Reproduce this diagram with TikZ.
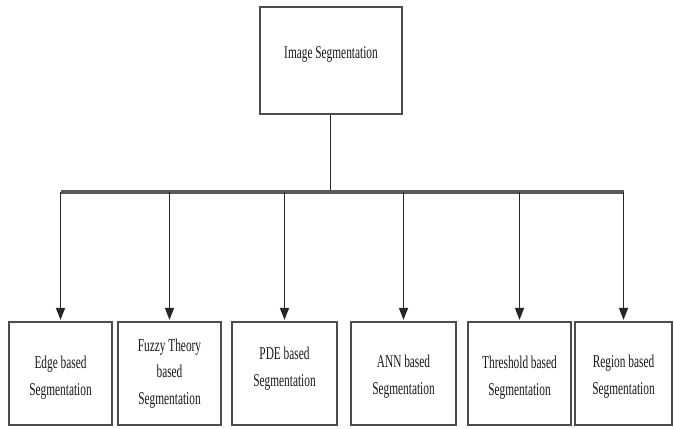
\documentclass[tikz,border=0pt]{standalone}
\usepackage{fontspec}
\setmainfont[FakeStretch=0.63]{Liberation Serif}
\usetikzlibrary{arrows.meta}
\tikzset{
  boxstyle/.style={draw=black!70, line width=2.2pt, fill=white, inner sep=0pt, anchor=center},
  labelstyle/.style={align=center, font=\fontsize{18}{26.5}\selectfont, text=black!90, inner sep=0pt},
  conn/.style={draw=black!85, line width=1.3pt},
  barstyle/.style={draw=black!65, line width=3.2pt},
  arr/.style={conn, -{Triangle[width=9pt,length=12pt]}, shorten >=1pt},
}
\begin{document}
\begin{tikzpicture}[x=1pt,y=1pt]
\useasboundingbox (0,0) rectangle (674,428);
% top box
\node[boxstyle, minimum width=142pt, minimum height=107pt] (top) at (331,367.5) {};
\node[labelstyle] (toptext) at (331,374) {Image Segmentation};
% bottom boxes
\node[boxstyle, minimum width=103pt, minimum height=103pt] (edge) at (60.5,54.5) {};
\node[boxstyle, minimum width=103pt, minimum height=103pt] (fuzzy) at (169.5,54.5) {};
\node[boxstyle, minimum width=105pt, minimum height=103pt] (pde) at (284.5,54.5) {};
\node[boxstyle, minimum width=105pt, minimum height=103pt] (ann) at (403.5,54.5) {};
\node[boxstyle, minimum width=103pt, minimum height=103pt] (thr) at (519.5,54.5) {};
\node[boxstyle, minimum width=97pt, minimum height=103pt] (reg) at (623.5,54.5) {};
\node[labelstyle] (edget) at ([yshift=-4pt]edge.center) {Edge based\\Segmentation};
\node[labelstyle] (fuzzyt) at (fuzzy.center) {Fuzzy Theory\\based\\Segmentation};
\node[labelstyle] (pdet) at ([yshift=5pt]pde.center) {PDE based\\Segmentation};
\node[labelstyle] (annt) at ([yshift=-3pt]ann.center) {ANN based\\Segmentation};
\node[labelstyle] (thrt) at ([yshift=-4pt]thr.center) {Threshold based\\Segmentation};
\node[labelstyle] (regt) at ([yshift=-3pt]reg.center) {Region based\\Segmentation};
% connectors
\coordinate (barL) at (60.5,236);
\coordinate (barR) at (623.5,236);
\coordinate (barC) at (330.5,236);
\draw[conn] (barC |- top.south) -- (barC);
\draw[barstyle] (barL) -- (barR);
\foreach \b in {edge,fuzzy,pde,ann,thr,reg}{
  \draw[arr] (\b.north |- barL) -- (\b.north);
}
\end{tikzpicture}
\end{document}
